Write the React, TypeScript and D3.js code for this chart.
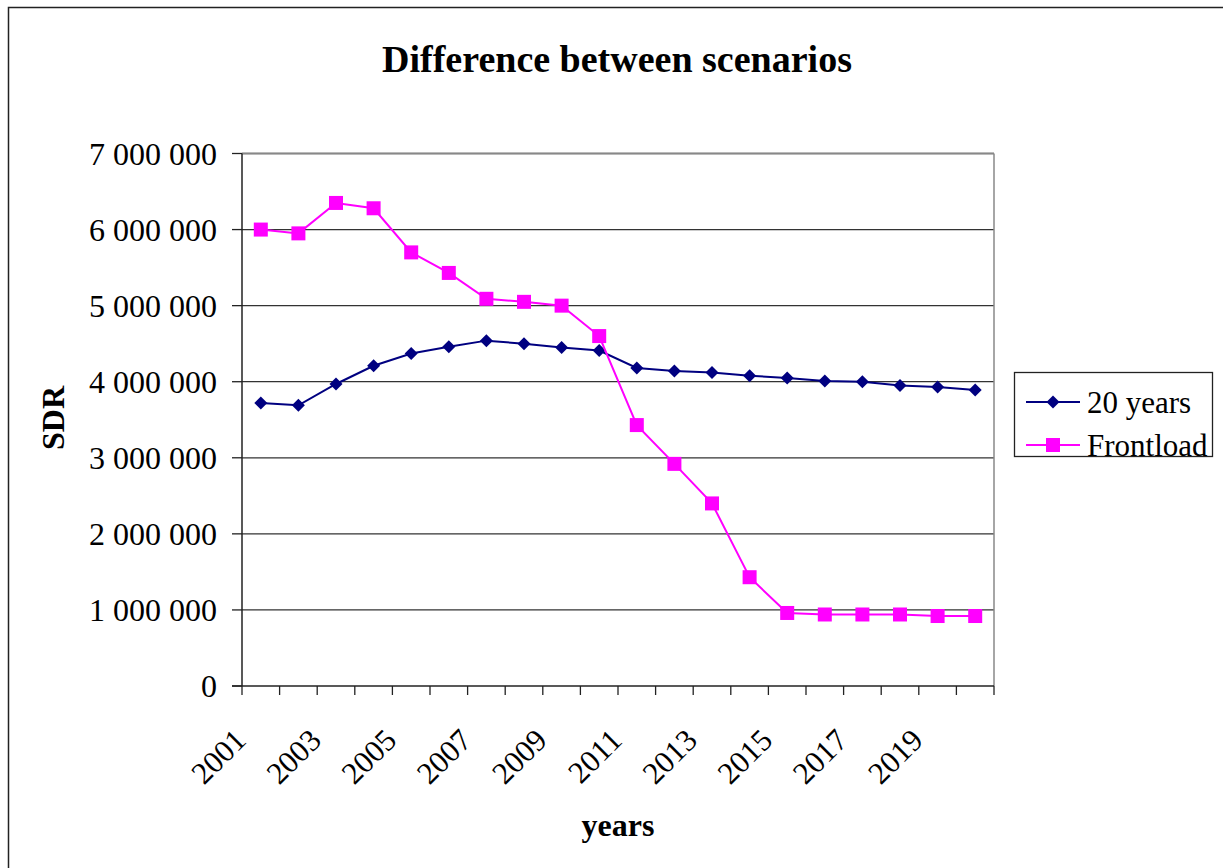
import React from "react";
import * as d3 from "d3";

// Years on the category axis
const years: string[] = [
  "2001", "2002", "2003", "2004", "2005", "2006", "2007", "2008", "2009", "2010",
  "2011", "2012", "2013", "2014", "2015", "2016", "2017", "2018", "2019", "2020",
];

// SDR amounts for the "20 years" scenario
const twentyYears: number[] = [
  3720000, 3690000, 3970000, 4210000, 4370000, 4460000, 4540000, 4500000, 4450000, 4410000,
  4180000, 4140000, 4120000, 4080000, 4050000, 4010000, 4000000, 3950000, 3930000, 3890000,
];

// SDR amounts for the "Frontload" scenario
const frontload: number[] = [
  6000000, 5950000, 6350000, 6280000, 5700000, 5430000, 5090000, 5050000, 5000000, 4600000,
  3430000, 2920000, 2400000, 1430000, 960000, 940000, 940000, 940000, 920000, 920000,
];

// Value-axis ticks
const yTicks: number[] = [0, 1000000, 2000000, 3000000, 4000000, 5000000, 6000000, 7000000];

const seriesNames: string[] = ["20 years", "Frontload"];

const FONT = "'Liberation Serif', 'Times New Roman', serif";
const NAVY = "#000080";
const MAGENTA = "#FF00FF";

const W = 1223;
const H = 868;
const plot = { left: 242, right: 994, top: 153.5, bottom: 686 };

const fmt = (v: number) => d3.format(",")(v).replace(/,/g, " ");

export default function App() {
  const x = d3
    .scaleBand<string>()
    .domain(years)
    .range([plot.left, plot.right])
    .paddingInner(0)
    .paddingOuter(0);
  const y = d3.scaleLinear().domain([0, 7000000]).range([plot.bottom, plot.top]);
  const cx = (yr: string) => (x(yr) as number) + x.bandwidth() / 2;

  const line = d3
    .line<number>()
    .x((_, i) => cx(years[i]))
    .y((d) => y(d));

  const boundaries = years.map((yr) => x(yr) as number).concat([plot.right]);
  const diamond = (px: number, py: number, r: number) =>
    `M${px},${py - r}L${px + r},${py}L${px},${py + r}L${px - r},${py}Z`;

  return (
    <svg
      width={W}
      height={H}
      style={{ position: "absolute", left: 0, top: 0, background: "#fff" }}
      fontFamily={FONT}
    >
      {/* outer chart frame */}
      <rect x={8.5} y={7.5} width={W + 20} height={H + 20} fill="#fff" stroke="#222" strokeWidth={1.5} />

      {/* title */}
      <text x={617} y={72} textAnchor="middle" fontSize={38} fontWeight="bold" fill="#000">
        Difference between scenarios
      </text>

      {/* gridlines */}
      {yTicks.slice(1).map((t) => (
        <line key={"g" + t} x1={plot.left} x2={plot.right} y1={y(t)} y2={y(t)} stroke="#333" strokeWidth={1.3} />
      ))}
      {/* plot border right / top */}
      <line x1={plot.right} x2={plot.right} y1={plot.top} y2={plot.bottom} stroke="#888" strokeWidth={1.5} />
      <line x1={plot.left} x2={plot.right} y1={plot.top} y2={plot.top} stroke="#888" strokeWidth={1.5} />

      {/* value axis */}
      <line x1={plot.left} x2={plot.left} y1={plot.top} y2={plot.bottom} stroke="#222" strokeWidth={1.5} />
      {yTicks.map((t) => (
        <g key={"yt" + t}>
          <line x1={plot.left - 10} x2={plot.left} y1={y(t)} y2={y(t)} stroke="#222" strokeWidth={1.3} />
          <text x={217} y={y(t) + 11} textAnchor="end" fontSize={32} fill="#000">
            {fmt(t)}
          </text>
        </g>
      ))}

      {/* category axis */}
      <line x1={plot.left - 10} x2={plot.right} y1={plot.bottom} y2={plot.bottom} stroke="#222" strokeWidth={1.5} />
      {boundaries.map((bx, i) => (
        <line key={"xt" + i} x1={bx} x2={bx} y1={plot.bottom} y2={plot.bottom + 9} stroke="#222" strokeWidth={1.3} />
      ))}
      {years.map((yr, i) =>
        i % 2 === 0 ? (
          <text
            key={"xl" + yr}
            transform={`translate(${cx(yr) - 13},${742}) rotate(-45)`}
            textAnchor="end"
            fontSize={31}
            fill="#000"
          >
            {yr}
          </text>
        ) : null
      )}

      {/* axis titles */}
      <text x={618} y={836} textAnchor="middle" fontSize={32} fontWeight="bold" fill="#000">
        years
      </text>
      <text
        transform={`translate(${64},${418}) rotate(-90)`}
        textAnchor="middle"
        fontSize={32}
        fontWeight="bold"
        fill="#000"
      >
        SDR
      </text>

      {/* series: 20 years */}
      <path d={line(twentyYears) || ""} fill="none" stroke={NAVY} strokeWidth={2} />
      {twentyYears.map((v, i) => (
        <path key={"d" + i} d={diamond(cx(years[i]), y(v), 6.5)} fill={NAVY} />
      ))}

      {/* series: Frontload */}
      <path d={line(frontload) || ""} fill="none" stroke={MAGENTA} strokeWidth={2} />
      {frontload.map((v, i) => (
        <rect key={"s" + i} x={cx(years[i]) - 7} y={y(v) - 7} width={14} height={14} fill={MAGENTA} />
      ))}

      {/* legend */}
      <rect x={1014.5} y={372.5} width={198} height={84} fill="#fff" stroke="#222" strokeWidth={1.3} />
      <g>
        <line x1={1026} x2={1080} y1={402} y2={402} stroke={NAVY} strokeWidth={2} />
        <path d={diamond(1053, 402, 6.5)} fill={NAVY} />
        <text x={1087} y={413} fontSize={31} fill="#000">
          {seriesNames[0]}
        </text>
      </g>
      <g>
        <line x1={1026} x2={1080} y1={445} y2={445} stroke={MAGENTA} strokeWidth={2} />
        <rect x={1046} y={438} width={14} height={14} fill={MAGENTA} />
        <text x={1087} y={456} fontSize={31} fill="#000">
          {seriesNames[1]}
        </text>
      </g>
    </svg>
  );
}
